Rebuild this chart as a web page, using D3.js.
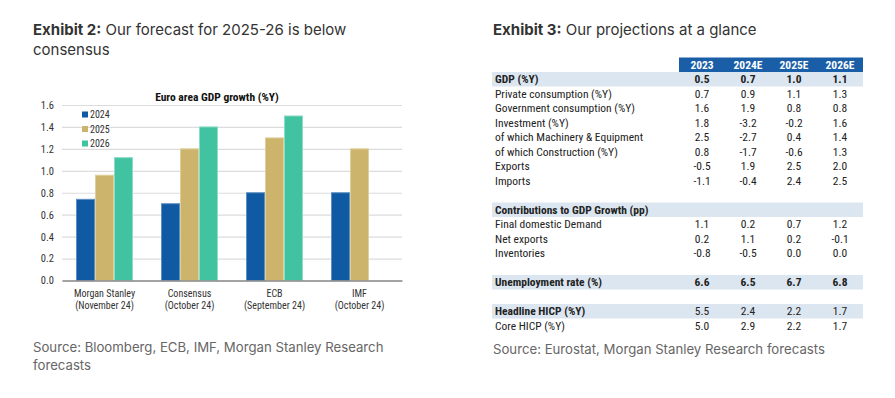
<!DOCTYPE html>
<html><head><meta charset="utf-8">
<script src="https://cdn.jsdelivr.net/npm/d3@7"></script>
<style>body{margin:0;background:#fff} svg{display:block}</style>
</head><body><svg id="c" width="895" height="398"></svg>
<script>
// ---- Exhibit 2 data ----
const groupLine1 = ["Morgan Stanley", "Consensus", "ECB", "IMF"];
const groupLine2 = ["(November 24)", "(October 24)", "(September 24)", "(October 24)"];
const seriesNames = ["2024", "2025", "2026"];
const s2024 = [0.74, 0.70, 0.80, 0.80];
const s2025 = [0.96, 1.20, 1.30, 1.20];
const s2026 = [1.12, 1.40, 1.50, null];
const yTicks = [0.0, 0.2, 0.4, 0.6, 0.8, 1.0, 1.2, 1.4, 1.6];

// ---- Exhibit 3 data ----
const tableCols = ["2023", "2024E", "2025E", "2026E"];
const tableLabels = ["GDP (%Y)", "Private consumption (%Y)", "Government consumption (%Y)", "Investment (%Y)",
  "of which Machinery & Equipment", "of which Construction (%Y)", "Exports", "Imports", "",
  "Contributions to GDP Growth (pp)", "Final domestic Demand", "Net exports", "Inventories", "",
  "Unemployment rate (%)", "", "Headline HICP (%Y)", "Core HICP (%Y)"];
const v2023  = [0.5, 0.7, 1.6, 1.8, 2.5, 0.8, -0.5, -1.1, null, null, 1.1, 0.2, -0.8, null, 6.6, null, 5.5, 5.0];
const v2024E = [0.7, 0.9, 1.9, -3.2, -2.7, -1.7, 1.9, -0.4, null, null, 0.2, 1.1, -0.5, null, 6.5, null, 2.4, 2.9];
const v2025E = [1.0, 1.1, 0.8, -0.2, 0.4, -0.6, 2.5, 2.4, null, null, 0.7, 0.2, 0.0, null, 6.7, null, 2.2, 2.2];
const v2026E = [1.1, 1.3, 0.8, 1.6, 1.4, 1.3, 2.0, 2.5, null, null, 1.2, -0.1, 0.0, null, 6.8, null, 1.7, 1.7];

// ---- style config ----
const colors = ["#0f5aa2", "#cdb46d", "#41c3a1"];
const strokes = ["#5c8fc4", "#e0cf9c", "#8edcc6"];
const shadedRows = new Set([0, 9, 14, 16]);
const boldLabelRows = new Set([0, 9, 14, 16]);
const boldValueRows = new Set([0, 14]);
const NARROW = "'Liberation Sans Narrow','Arial Narrow','Roboto Condensed',sans-serif";
const UI = "Inter, 'Open Sans', sans-serif";

const svg = d3.select("#c");

// Titles
function title(x, y, bold, rest) {
  const t = svg.append("text").attr("x", x).attr("y", y).attr("font-family", UI)
    .attr("font-size", 15).attr("fill", "#333");
  t.append("tspan").attr("font-weight", 700).text(bold);
  t.append("tspan").text(rest);
  return t;
}
title(33, 35, "Exhibit 2:", " Our forecast for 2025-26 is below");
svg.append("text").attr("x", 33).attr("y", 55).attr("font-family", UI).attr("font-size", 15)
  .attr("fill", "#333").text("consensus");
title(493, 35, "Exhibit 3:", " Our projections at a glance");

// ---- Bar chart ----
const plotL = 62, plotR = 402, y0 = 280.5, yTop = 105;
const x0 = d3.scaleBand().domain(groupLine1).range([plotL, plotR]).padding(0);
const x1 = d3.scaleBand().domain(seriesNames)
  .range([x0.bandwidth() * 0.165, x0.bandwidth() * 0.835]).padding(0);
const y = d3.scaleLinear().domain([0, 1.6]).range([y0, yTop]);

const yAxis = svg.append("g").attr("transform", `translate(${plotL},0)`)
  .call(d3.axisLeft(y).tickValues(yTicks).tickFormat(d3.format(".1f"))
    .tickSize(-(plotR - plotL)).tickPadding(8));
yAxis.select(".domain").remove();
yAxis.selectAll(".tick line").attr("stroke", "#dcdcdc").attr("stroke-width", 1.2);
yAxis.selectAll(".tick text").attr("font-family", NARROW).attr("font-size", 10.5).attr("fill", "#333");

const seriesData = [s2024, s2025, s2026];
const bars = [];
groupLine1.forEach((g, gi) => {
  seriesNames.forEach((s, si) => {
    const v = seriesData[si][gi];
    if (v != null) bars.push({ g, s, si, v });
  });
});
svg.append("g").selectAll("rect").data(bars).join("rect")
  .attr("x", d => x0(d.g) + x1(d.s) + 0.5)
  .attr("width", x1.bandwidth() - 1)
  .attr("y", d => y(d.v))
  .attr("height", d => y(0) - y(d.v))
  .attr("fill", d => colors[d.si])
  .attr("stroke", d => strokes[d.si]).attr("stroke-width", 1);

// x axis
const xAxis = svg.append("g").attr("transform", `translate(0,${y0})`)
  .call(d3.axisBottom(x0).tickSize(0).tickFormat(""));
xAxis.select(".domain").attr("stroke", "#8a8a8a").attr("stroke-width", 1.6);
xAxis.selectAll(".tick").each(function (d, i) {
  const t = d3.select(this).append("text").attr("font-family", NARROW).attr("font-size", 10)
    .attr("fill", "#333").attr("text-anchor", "middle");
  t.append("tspan").attr("x", 0).attr("y", 16).text(groupLine1[i]);
  t.append("tspan").attr("x", 0).attr("y", 28).text(groupLine2[i]);
});

// chart title
svg.append("text").attr("x", 217).attr("y", 101).attr("text-anchor", "middle")
  .attr("font-family", NARROW).attr("font-size", 11.5).attr("font-weight", 700).attr("fill", "#111")
  .text("Euro area GDP growth (%Y)");

// legend
const leg = svg.append("g").selectAll("g").data(seriesNames).join("g")
  .attr("transform", (d, i) => `translate(82,${114.5 + i * 14.5})`);
leg.append("rect").attr("x", 0).attr("y", -3).attr("width", 6).attr("height", 6)
  .attr("fill", (d, i) => colors[i]);
leg.append("text").attr("x", 8).attr("y", 3.5).attr("font-family", NARROW).attr("font-size", 10)
  .attr("fill", "#333").text(d => d);

// source
const src = svg.append("text").attr("font-family", UI).attr("font-size", 13.2).attr("fill", "#666");
src.append("tspan").attr("x", 33).attr("y", 352).text("Source: Bloomberg, ECB, IMF, Morgan Stanley Research");
src.append("tspan").attr("x", 33).attr("y", 370).text("forecasts");

// ---- Table ----
const colX = d3.scaleBand().domain(tableCols).range([679, 863]);
const rowY = d3.scaleBand().domain(d3.range(tableLabels.length)).range([72, 72 + 14.5 * tableLabels.length]);
const tbl = svg.append("g");
tbl.append("rect").attr("x", colX.range()[0]).attr("y", 72 - rowY.bandwidth())
  .attr("width", colX.range()[1] - colX.range()[0]).attr("height", rowY.bandwidth()).attr("fill", "#1a5ea7");
tbl.selectAll("text.h").data(tableCols).join("text").attr("class", "h")
  .attr("x", d => colX(d) + colX.bandwidth() / 2).attr("y", 72 - rowY.bandwidth() / 2 + 4)
  .attr("text-anchor", "middle").attr("font-family", NARROW).attr("font-size", 11.5)
  .attr("font-weight", 700).attr("fill", "#fff").text(d => d);

const rowIdx = d3.range(tableLabels.length);
tbl.selectAll("rect.s").data(rowIdx.filter(i => shadedRows.has(i))).join("rect").attr("class", "s")
  .attr("x", 492).attr("y", i => rowY(i)).attr("width", 863 - 492).attr("height", rowY.bandwidth())
  .attr("fill", "#dce6f1");
tbl.selectAll("text.l").data(rowIdx).join("text").attr("class", "l")
  .attr("x", 495).attr("y", i => rowY(i) + rowY.bandwidth() / 2 + 4)
  .attr("font-family", NARROW).attr("font-size", 11.5)
  .attr("font-weight", i => boldLabelRows.has(i) ? 700 : 400).attr("fill", "#222")
  .text(i => tableLabels[i]);
const colVals = [v2023, v2024E, v2025E, v2026E];
const cells = [];
rowIdx.forEach(r => colVals.forEach((arr, c) => { if (arr[r] != null) cells.push({ r, c, v: arr[r] }); }));
tbl.selectAll("text.v").data(cells).join("text").attr("class", "v")
  .attr("x", d => colX(tableCols[d.c]) + colX.bandwidth() / 2)
  .attr("y", d => rowY(d.r) + rowY.bandwidth() / 2 + 4)
  .attr("text-anchor", "middle").attr("font-family", NARROW).attr("font-size", 11.5)
  .attr("font-weight", d => boldValueRows.has(d.r) ? 700 : 400).attr("fill", "#222")
  .text(d => d.v.toFixed(1));

svg.append("text").attr("x", 493).attr("y", 354).attr("font-family", UI).attr("font-size", 13.2)
  .attr("fill", "#666").text("Source: Eurostat, Morgan Stanley Research forecasts");
</script></body></html>
